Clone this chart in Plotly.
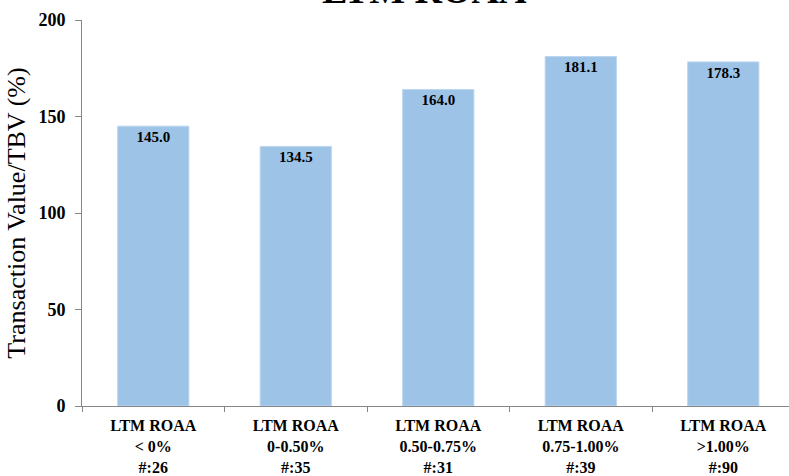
import plotly.graph_objects as go

categories = ["LTM ROAA<br>< 0%<br>#:26", "LTM ROAA<br>0-0.50%<br>#:35",
              "LTM ROAA<br>0.50-0.75%<br>#:31", "LTM ROAA<br>0.75-1.00%<br>#:39",
              "LTM ROAA<br>>1.00%<br>#:90"]
values = [145.0, 134.5, 164.0, 181.1, 178.3]
y_ticks = [0, 50, 100, 150, 200]

FONT = "Liberation Serif"

fig = go.Figure(go.Bar(
    x=categories, y=values,
    width=0.5,
    marker=dict(color="#9DC3E6", line=dict(color="#BDD7EE", width=1)),
    text=[f"{v:.1f}" for v in values],
    textposition="inside", insidetextanchor="end",
    textfont=dict(family=FONT, size=15, color="black", weight="bold"),
    textangle=0,
    hoverinfo="skip",
))

fig.update_layout(
    width=789, height=476,
    margin=dict(l=82, r=0, t=20, b=68),
    plot_bgcolor="white", paper_bgcolor="white",
    showlegend=False,
    font=dict(family=FONT, color="black"),
    bargap=0.5,
)
fig.update_xaxes(
    type="category", range=[-0.5, 4.461],
    showline=True, linecolor="#868686", linewidth=1,
    ticks="outside", tickson="boundaries", ticklen=5, tickcolor="#868686",
    tickfont=dict(family=FONT, size=16, color="black", weight="bold"),
    ticklabelstandoff=5,
    showgrid=False,
)
fig.update_yaxes(
    range=[0, 200], tickvals=y_ticks,
    showline=True, linecolor="#868686", linewidth=1,
    ticks="outside", ticklen=6, tickcolor="#868686",
    tickfont=dict(family=FONT, size=18, color="black", weight="bold"),
    ticklabelstandoff=6,
    showgrid=False, zeroline=False,
    title=dict(text="Transaction Value/TBV (%)", font=dict(family=FONT, size=26, color="black"), standoff=5),
)
fig.add_annotation(
    text="<b>LTM ROAA</b>", xref="paper", yref="paper", x=0.485, y=1.0,
    yshift=7, yanchor="bottom", showarrow=False,
    font=dict(family=FONT, size=38, color="black"),
)

fig.write_html("out.html", config={"displayModeBar": False},
               post_script="document.body.style.margin='0';document.body.style.overflow='hidden';")
